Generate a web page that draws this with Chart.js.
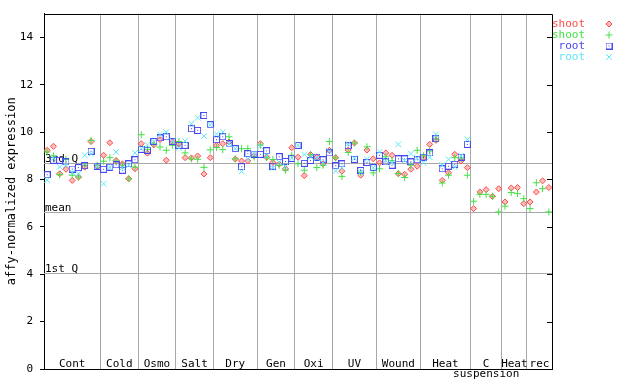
<!DOCTYPE html>
<html>
<head>
<meta charset="utf-8">
<script src="https://cdn.jsdelivr.net/npm/chart.js@4.4.0/dist/chart.umd.min.js"></script>
<style>
  html, body { margin: 0; padding: 0; background: #fff; }
  #expr { display: block; }
</style>
</head>
<body>
<canvas id="expr" width="640" height="384"></canvas>
<script>
// groups along the x axis and how many samples each one holds
const groupNames = ['Cont', 'Cold', 'Osmo', 'Salt', 'Dry', 'Gen', 'Oxi', 'UV', 'Wound', 'Heat', ['C', 'suspension'], 'Heat', 'rec'];
const groupSizes = [9, 6, 6, 6, 7, 6, 6, 7, 7, 8, 5, 4, 4];

const yTicks = [0, 2, 4, 6, 8, 10, 12, 14];

// summary lines across the whole plot
const firstQ = 4.05;
const meanValue = 6.62;
const thirdQ = 8.69;

// one value per sample (81 samples)
const shootRed = [
    9.23, 9.40, 8.24, 8.43, 7.96, 8.10, 8.52, 9.60, 8.55,
    9.02, 9.55, 8.80, 8.66, 8.03, 8.45,
    9.51, 9.11, 9.46, 9.68, 8.81, 9.58,
    9.50, 8.92, 8.91, 8.99, 8.23, 8.92,
    9.44, 9.51, 9.58, 8.86, 8.78, 8.78, 9.00,
    9.51, 8.94, 8.72, 8.65, 8.45, 9.34,
    8.94, 8.16, 9.05, 8.94, 8.66, 9.23,
    8.92, 8.35, 9.24, 9.54, 8.18, 9.24, 8.87,
    8.70, 9.12, 9.02, 8.24, 8.22, 8.43, 8.56,
    8.90, 9.48, 9.65, 7.96, 8.28, 9.06, 8.78, 8.50,
    6.77, 7.47, 7.57, 7.29, 7.61,
    7.05, 7.64, 7.66, 6.98,
    7.05, 7.47, 7.94, 7.66
];
const shootGreen = [
    9.16, 9.00, 8.20, 8.85, 8.18, 8.10, 8.60, 9.65, 8.60,
    8.77, 8.92, 8.78, 8.60, 8.03, 8.52,
    9.89, 9.27, 9.50, 9.37, 9.23, 9.44,
    9.60, 9.12, 8.87, 8.85, 8.51, 9.25,
    9.35, 9.26, 9.80, 8.87, 9.30, 9.30, 8.95,
    9.45, 8.92, 8.84, 8.60, 8.39, 9.02,
    8.66, 8.39, 9.05, 8.50, 8.60, 9.60,
    8.91, 8.13, 9.14, 9.54, 8.30, 9.38, 8.28,
    8.45, 8.96, 8.80, 8.25, 8.08, 8.60, 9.23,
    9.00, 9.20, 9.70, 7.85, 8.18, 8.92, 8.90, 8.18,
    7.08, 7.37, 7.37, 7.29, 6.63,
    6.87, 7.45, 7.40, 7.19,
    6.77, 7.86, 7.61, 6.63
];
const rootBlue = [
    8.20, 8.81, 8.81, 8.74, 8.44, 8.50, 8.58, 9.19, 8.56,
    8.43, 8.52, 8.62, 8.39, 8.66, 8.83,
    9.27, 9.23, 9.60, 9.75, 9.80, 9.60,
    9.44, 9.44, 10.14, 10.07, 10.70, 10.31,
    9.68, 9.80, 9.50, 9.30, 8.54, 9.09, 9.07,
    9.06, 9.21, 8.56, 8.96, 8.76, 8.89,
    9.44, 8.68, 8.80, 8.94, 8.83, 9.12,
    8.58, 8.66, 9.42, 8.85, 8.38, 8.72, 8.50,
    9.02, 8.74, 8.60, 8.87, 8.87, 8.74, 8.83,
    8.94, 9.12, 9.72, 8.45, 8.56, 8.64, 8.94, 9.48,
    null, null, null, null, null,
    null, null, null, null,
    null, null, null, null
];
const rootCyan = [
    7.97, 8.90, 8.53, 8.60, 8.30, 8.24, 9.02, 9.09, 8.56,
    7.82, 8.50, 9.16, 8.50, 8.60, 9.12,
    9.30, 9.46, 9.60, 9.90, 10.00, 9.62,
    9.33, 9.62, 10.35, 10.60, 9.83, 10.31,
    9.92, 10.00, 9.50, 9.30, 8.34, 8.87, 9.09,
    9.40, 9.00, 8.49, 8.73, 8.55, 8.90,
    9.44, 9.05, 8.95, 8.90, 8.70, 9.20,
    8.36, 8.50, 9.50, 8.90, 8.30, 8.85, 8.50,
    9.16, 8.80, 8.70, 9.48, 8.80, 9.09, 8.90,
    8.70, 8.94, 9.90, 8.60, 8.85, 8.53, 9.00, 9.69,
    null, null, null, null, null,
    null, null, null, null,
    null, null, null, null
];

const FONT = 'DejaVu Sans Mono';
const GRAY = '#a8a8a8';
const BLUE = '#4848f0';

// group edges in sample units
const edges = [0];
groupSizes.forEach(n => edges.push(edges[edges.length - 1] + n));
const nSamples = edges[edges.length - 1];

function toPoints(values) {
    const pts = [];
    values.forEach((v, i) => { if (v !== null) pts.push({x: i + 0.5, y: v}); });
    return pts;
}

// small hollow square with a dot in the middle, like the original marker
function dottedSquare(color) {
    const c = document.createElement('canvas');
    c.width = 7;
    c.height = 7;
    const g = c.getContext('2d');
    g.strokeStyle = color;
    g.lineWidth = 1;
    g.strokeRect(0.5, 0.5, 6, 6);
    g.fillStyle = color;
    g.fillRect(3, 3, 1, 1);
    return c;
}

const datasets = [
    {label: 'shoot', data: toPoints(shootRed), pointStyle: 'rectRot', radius: 3,
     borderColor: '#ff4a4a', backgroundColor: 'rgba(255,90,90,0.4)', borderWidth: 1, order: 3},
    {label: 'shoot', data: toPoints(shootGreen), pointStyle: 'cross', radius: 3.5,
     borderColor: '#44e044', backgroundColor: '#44e044', borderWidth: 1, order: 2},
    {label: 'root', data: toPoints(rootBlue), pointStyle: dottedSquare(BLUE), radius: 4,
     borderColor: BLUE, backgroundColor: BLUE, borderWidth: 1, order: 1},
    {label: 'root', data: toPoints(rootCyan), pointStyle: 'crossRot', radius: 4,
     borderColor: '#5ae8f8', backgroundColor: '#5ae8f8', borderWidth: 1, order: 0}
];

// quartile lines, group labels, box, right ticks and legend
const decorations = {
    id: 'decorations',
    beforeDatasetsDraw(chart) {
        const {ctx, chartArea: a, scales: {x, y}} = chart;
        ctx.save();
        ctx.strokeStyle = GRAY;
        ctx.lineWidth = 1;
        ctx.font = '11px ' + FONT;
        ctx.fillStyle = '#000';
        ctx.textBaseline = 'bottom';
        [[thirdQ, '3rd Q'], [meanValue, 'mean'], [firstQ, '1st Q']].forEach(([v, txt]) => {
            const py = Math.round(y.getPixelForValue(v)) + 0.5;
            ctx.beginPath();
            ctx.moveTo(a.left, py);
            ctx.lineTo(a.right, py);
            ctx.stroke();
            ctx.textAlign = 'left';
            ctx.fillText(txt, a.left + 1, py + 1);
        });
        ctx.textAlign = 'center';
        ctx.textBaseline = 'middle';
        groupNames.forEach((name, g) => {
            const cx = x.getPixelForValue((edges[g] + edges[g + 1]) / 2);
            const lines = Array.isArray(name) ? name : [name];
            lines.forEach((ln, k) => ctx.fillText(ln, cx, a.bottom - 5 + k * 10));
        });
        ctx.restore();
    },
    afterDraw(chart) {
        const {ctx, chartArea: a, scales: {y}} = chart;
        ctx.save();
        ctx.strokeStyle = '#000';
        ctx.lineWidth = 1;
        ctx.beginPath();
        ctx.moveTo(a.left, Math.round(a.top) + 0.5);
        ctx.lineTo(Math.round(a.right) + 0.5, Math.round(a.top) + 0.5);
        ctx.lineTo(Math.round(a.right) + 0.5, a.bottom);
        yTicks.forEach(t => {
            const py = Math.round(y.getPixelForValue(t)) + 0.5;
            ctx.moveTo(a.right - 5, py);
            ctx.lineTo(a.right, py);
        });
        ctx.stroke();

        // legend to the right of the plot
        ctx.font = '11px ' + FONT;
        ctx.textAlign = 'right';
        ctx.textBaseline = 'middle';
        chart.data.datasets.forEach((ds, k) => {
            const ly = 24 + k * 11;
            ctx.fillStyle = ds.borderColor;
            ctx.fillText(ds.label, 585, ly);
            ctx.strokeStyle = ds.borderColor;
            ctx.fillStyle = ds.backgroundColor;
            ctx.lineWidth = ds.borderWidth;
            Chart.helpers.drawPoint(ctx, {pointStyle: ds.pointStyle, radius: ds.radius, rotation: 0, borderWidth: ds.borderWidth}, 609, ly);
        });
        ctx.restore();
    }
};

new Chart(document.getElementById('expr'), {
    type: 'scatter',
    data: {datasets: datasets},
    options: {
        responsive: false,
        animation: false,
        devicePixelRatio: 1,
        events: [],
        layout: {padding: {top: 13, right: 88, bottom: 0, left: 0}},
        plugins: {legend: {display: false}, tooltip: {enabled: false}},
        scales: {
            x: {
                type: 'linear',
                min: 0,
                max: nSamples,
                afterBuildTicks: scale => { scale.ticks = edges.slice(1, -1).map(v => ({value: v})); },
                afterFit: scale => { scale.height = 15; },
                ticks: {display: false},
                grid: {color: GRAY, lineWidth: 1, drawTicks: false},
                border: {color: '#000', width: 1}
            },
            y: {
                min: 0,
                max: 15,
                afterBuildTicks: scale => { scale.ticks = yTicks.map(v => ({value: v})); },
                afterFit: scale => { scale.width = 44; },
                ticks: {color: '#000', padding: 7, font: {family: FONT, size: 11}},
                grid: {drawOnChartArea: false, tickLength: 4, color: '#000'},
                border: {color: '#000', width: 1},
                title: {
                    display: true,
                    text: 'affy-normalized expression',
                    color: '#000',
                    font: {family: FONT, size: 12},
                    padding: {top: 5, bottom: 0}
                }
            }
        }
    },
    plugins: [decorations]
});
</script>
</body>
</html>
